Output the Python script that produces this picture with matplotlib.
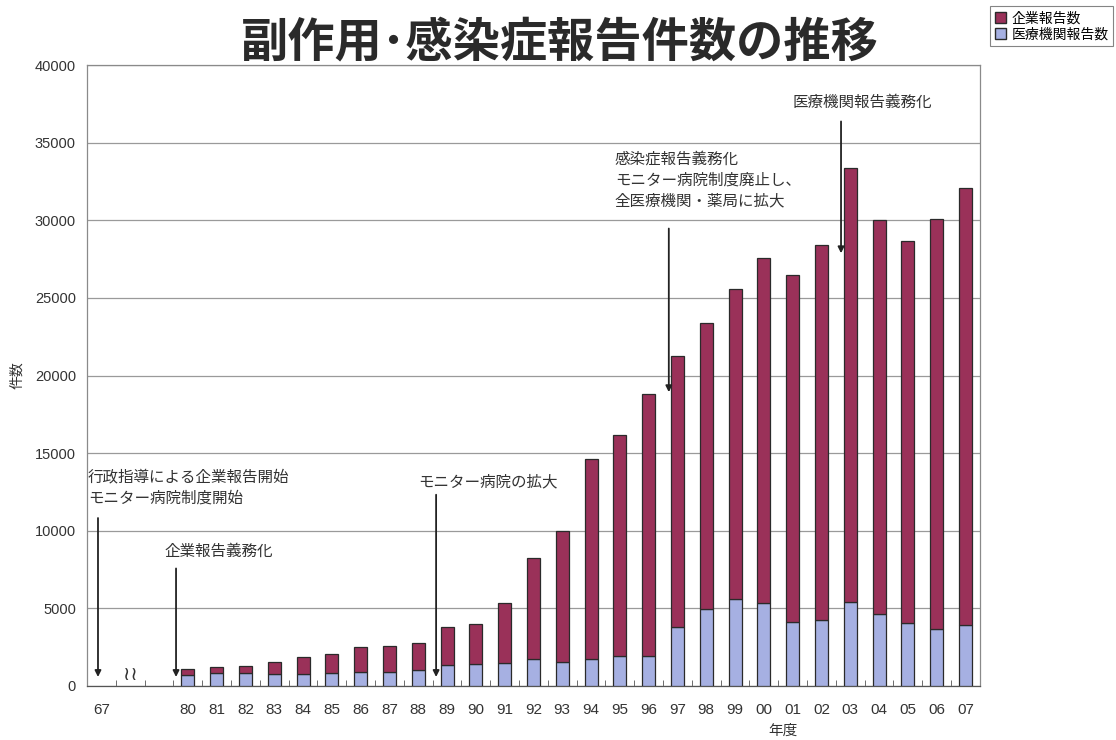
import numpy as np
import matplotlib
matplotlib.use("Agg")
import matplotlib.pyplot as plt
from matplotlib.patches import Patch

plt.rcParams["font.family"] = ["Noto Sans CJK JP", "DejaVu Sans"]

# 年度ラベル (空欄は省略部分)
years = ["67", "", "", "80", "81", "82", "83", "84", "85", "86", "87", "88",
         "89", "90", "91", "92", "93", "94", "95", "96", "97", "98", "99",
         "00", "01", "02", "03", "04", "05", "06", "07"]

# 合計件数 (積み上げ後の高さ)
total = [0, 0, 0, 1100, 1200, 1290, 1550, 1870, 2060, 2510, 2580, 2770,
         3800, 3990, 5350, 8240, 9980, 14600, 16200, 18800, 21250, 23400,
         25600, 27600, 26500, 28400, 33400, 30000, 28700, 30100, 32100]

# 医療機関報告数
medical = [0, 0, 0, 700, 840, 840, 770, 770, 840, 900, 900, 1030,
           1350, 1420, 1480, 1740, 1550, 1740, 1930, 1930, 3800, 4960,
           5600, 5350, 4120, 4250, 5410, 4640, 4060, 3670, 3930]

company = [t - m for t, m in zip(total, medical)]

red = "#9a3159"
blue = "#a6b0e2"
edge = "#2a2a2a"
num_font = ["Liberation Sans", "DejaVu Sans"]


def main():
    fig = plt.figure(figsize=(11.16, 7.40), dpi=100)
    ax = fig.add_axes([0.078, 0.073, 0.800, 0.839])

    x = np.arange(len(years))
    idx = [i for i in x if total[i] > 0]
    med = [medical[i] for i in idx]
    com = [company[i] for i in idx]

    ax.bar(idx, med, width=0.45, color=blue, edgecolor=edge, linewidth=0.9, zorder=3)
    ax.bar(idx, com, width=0.45, bottom=med, color=red, edgecolor=edge, linewidth=0.9, zorder=3)

    ax.set_xlim(-0.5, len(years) - 0.5)
    ax.set_ylim(0, 40000)
    ax.set_yticks(np.arange(0, 40001, 5000))
    ax.yaxis.grid(True, color="#9a9a9a", linewidth=0.9, zorder=0)
    ax.tick_params(axis="y", length=0, pad=8, labelcolor="#333333")

    ax.set_xticks(x)
    ax.set_xticklabels(years)
    ax.set_xticks(np.arange(-0.5, len(years), 1.0), minor=True)
    ax.tick_params(axis="x", which="major", length=0, pad=12, labelcolor="#333333")
    ax.tick_params(axis="x", which="minor", direction="in", length=4, color="#555555")
    for lab in ax.get_yticklabels():
        lab.set_fontfamily(num_font)
        lab.set_fontsize(10.5)
    for lab in ax.get_xticklabels():
        lab.set_fontfamily(num_font)
        lab.set_fontsize(11)

    for s in ax.spines.values():
        s.set_color("#8a8a8a")
        s.set_linewidth(0.9)
    ax.spines["bottom"].set_color("#555555")

    # 省略記号
    ax.text(1.0, 100, "≀≀", ha="center", va="bottom", fontsize=14, color="#333333",
            family=["DejaVu Sans"])

    ax.set_ylabel("件数", fontsize=10, labelpad=8, color="#333333")
    fig.text(0.702, 0.012, "年度", fontsize=10.5, ha="center", va="center", color="#333333")

    fig.text(0.502, 0.943, "副作用･感染症報告件数の推移", fontsize=34, fontweight="bold",
             ha="center", va="center", color="#2a2a2a")

    arrow = dict(arrowstyle="-|>", color="#222222", lw=1.3, mutation_scale=9)
    notes = [
        ("行政指導による企業報告開始\nモニター病院制度開始", -0.47, 14000, -0.12, 11000, 400),
        ("企業報告義務化", 2.2, 8650, 2.59, 7750, 400),
        ("モニター病院の拡大", 10.99, 13150, 11.62, 12500, 400),
        ("感染症報告義務化\nモニター病院制度廃止し、\n全医療機関・薬局に拡大", 17.83, 34500, 19.7, 29650, 18750),
        ("医療機関報告義務化", 24.0, 37600, 25.68, 36550, 27700),
    ]
    for text, tx, ty, axx, y0, y1 in notes:
        ax.text(tx, ty, text, ha="left", va="top" if "\n" in text else "center",
                fontsize=11.2, color="#333333", linespacing=1.3, zorder=5)
        ax.annotate("", xy=(axx, y1), xytext=(axx, y0), arrowprops=arrow, zorder=5)

    handles = [Patch(facecolor=red, edgecolor=edge, label="企業報告数"),
               Patch(facecolor=blue, edgecolor=edge, label="医療機関報告数")]
    leg = fig.legend(handles=handles, loc="upper right", bbox_to_anchor=(1.0, 0.995),
                     fontsize=10, frameon=True, fancybox=False, handlelength=0.8,
                     handleheight=0.8, handletextpad=0.4, borderpad=0.35,
                     labelspacing=0.15, borderaxespad=0.2)
    leg.get_frame().set_edgecolor("#666666")
    leg.get_frame().set_linewidth(0.8)

    fig.savefig("out.png", dpi=100)
    plt.close(fig)


if __name__ == "__main__":
    main()
